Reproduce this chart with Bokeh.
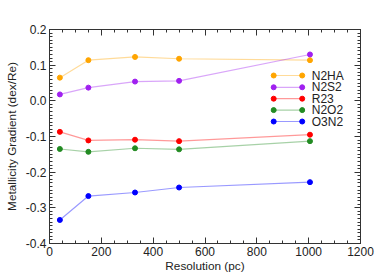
from bokeh.plotting import figure
from bokeh.models import FixedTicker, LinearAxis, Range1d, Label
from bokeh.embed import file_html
from bokeh.resources import INLINE

resolution = [40, 150, 330, 500, 1005]
n2ha = [0.065, 0.114, 0.123, 0.118, 0.114]
n2s2 = [0.018, 0.037, 0.054, 0.056, 0.130]
r23 = [-0.087, -0.111, -0.109, -0.113, -0.095]
n2o2 = [-0.135, -0.143, -0.133, -0.136, -0.113]
o3n2 = [-0.334, -0.267, -0.257, -0.243, -0.228]

series_names = ["N2HA", "N2S2", "R23", "N2O2", "O3N2"]
series_values = [n2ha, n2s2, r23, n2o2, o3n2]
colors = ["#ffa500", "#a020f0", "#ff0000", "#228b22", "#0000ff"]

x_ticks = [0, 200, 400, 600, 800, 1000, 1200]
y_ticks = [-0.4, -0.3, -0.2, -0.1, 0.0, 0.1, 0.2]
y_tick_labels = ["-0.4", "-0.3", "-0.2", "-0.1", "0.0", "0.1", "0.2"]

FONT = "Liberation Sans"
AX = "#333333"

p = figure(width=376, height=275, output_backend="svg", toolbar_location=None,
           x_range=Range1d(0, 1200), y_range=Range1d(-0.4, 0.2),
           min_border_left=49, min_border_right=16, min_border_top=29, min_border_bottom=32)
p.grid.visible = False
p.outline_line_color = AX
p.background_fill_color = "white"

xminor = [i * 50 for i in range(0, 25)]
yminor = [round(-0.4 + i * 0.01, 2) for i in range(0, 61)]

def style_axis(ax, ticks, minor, labels=True):
    ax.ticker = FixedTicker(ticks=ticks, minor_ticks=minor)
    ax.axis_line_color = AX
    ax.major_tick_line_color = AX
    ax.minor_tick_line_color = AX
    ax.major_tick_in = 6
    ax.major_tick_out = 0
    ax.minor_tick_in = 3
    ax.minor_tick_out = 0
    ax.major_label_text_font = FONT
    ax.major_label_text_font_size = "12px"
    ax.major_label_text_color = "#222222" if labels else None
    ax.axis_label_text_font = FONT
    ax.axis_label_text_font_size = "11.8px"
    ax.axis_label_text_font_style = "normal"
    ax.axis_label_text_color = "#222222"

style_axis(p.xaxis[0], x_ticks, xminor)
style_axis(p.yaxis[0], y_ticks, yminor)
p.xaxis[0].axis_label = "Resolution (pc)"
p.xaxis[0].axis_label_standoff = 0
p.xaxis[0].major_label_standoff = 3
p.yaxis[0].axis_label = "Metallicity Gradient (dex/Re)"
p.yaxis[0].axis_label_standoff = 4
p.yaxis[0].major_label_standoff = 3
p.yaxis[0].major_label_overrides = {t: l for t, l in zip(y_ticks, y_tick_labels)}

top = LinearAxis()
style_axis(top, x_ticks, xminor, labels=False)
p.add_layout(top, "above")
right = LinearAxis()
style_axis(right, y_ticks, yminor, labels=False)
p.add_layout(right, "right")
p.min_border_top = 29
p.min_border_right = 16

for name, vals, c in zip(series_names, series_values, colors):
    p.line(resolution, vals, line_color=c, line_alpha=0.4, line_width=1.2)
    p.scatter(resolution, vals, size=5, fill_color=c, line_color=c, marker="circle")

# legend drawn in data space
leg_x0, leg_x1, leg_tx = 865, 975, 1012
leg_y = [0.071, 0.038, 0.006, -0.026, -0.058]
for name, c, ly in zip(series_names, colors, leg_y):
    p.line([leg_x0, leg_x1], [ly, ly], line_color=c, line_alpha=0.4, line_width=1.2)
    p.scatter([leg_x0, leg_x1], [ly, ly], size=5, fill_color=c, line_color=c)
    p.add_layout(Label(x=leg_tx, y=ly, text=name, text_font=FONT, text_font_size="12px",
                       text_baseline="middle", text_color="#222222"))

open("out.html", "w").write(file_html(p, INLINE))
